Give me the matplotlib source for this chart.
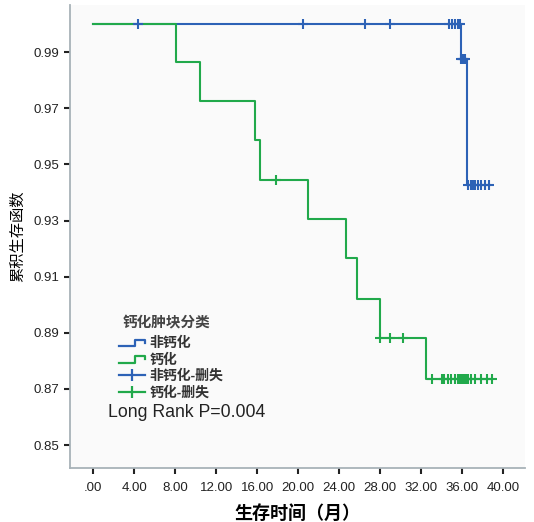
import matplotlib
matplotlib.use("Agg")
import matplotlib.pyplot as plt
from matplotlib.legend_handler import HandlerBase
from matplotlib.lines import Line2D
import numpy as np

plt.rcParams['font.family'] = ['Liberation Sans', 'Noto Sans CJK SC']

# --- data ---
blue_times = [0.0, 35.9, 36.5]
blue_surv = [1.0, 0.9876, 0.9427]
blue_end = 38.7
blue_cens_t = [4.4, 20.5, 26.5, 28.9, 34.7, 35.0, 35.3, 35.6, 35.8,
               35.9, 36.0, 36.1, 36.2, 36.3,
               36.6, 36.8, 37.0, 37.2, 37.5, 37.8, 38.2, 38.6]

green_times = [0.0, 8.1, 10.4, 15.8, 16.3, 21.0, 24.7, 25.7, 28.0, 32.5]
green_surv = [1.0, 0.9865, 0.9726, 0.9586, 0.9445, 0.9304, 0.9165,
              0.9022, 0.888, 0.8735]
green_end = 38.9
green_cens_t = [17.8, 28.0, 28.9, 30.2,
                33.0, 34.0, 34.2, 34.6, 34.9, 35.3, 35.6, 35.8, 36.0, 36.1,
                36.2, 36.3, 36.4, 36.5, 36.6, 36.8, 37.2, 37.8, 38.4, 38.9]

x_ticks = np.arange(0, 41, 4)
x_ticklabels = ['.00'] + ['%.2f' % v for v in x_ticks[1:]]
y_ticks = [0.85, 0.87, 0.89, 0.91, 0.93, 0.95, 0.97, 0.99]

legend_title = '钙化肿块分类'
legend_labels = ['非钙化', '钙化', '非钙化-删失', '钙化-删失']

blue = '#2d62b6'
green = '#21a94b'


def surv_at(times, surv, t):
    idx = np.searchsorted(times, t, side='right') - 1
    return np.asarray(surv)[idx]


class StepHandler(HandlerBase):
    # little step symbol like the SPSS legend
    def create_artists(self, legend, orig_handle, xdescent, ydescent,
                       width, height, fontsize, trans):
        w, h = width, height
        xs = [0, w * 0.6, w * 0.6, w, w]
        ys = [h * 0.1, h * 0.1, h * 0.85, h * 0.85, h * 0.5]
        ln = Line2D(xs, ys, color=orig_handle.get_color(), lw=1.6,
                    transform=trans)
        return [ln]


fig = plt.figure(figsize=(5.34, 5.22), dpi=100)
ax = fig.add_axes([0.131, 0.1034, 0.852, 0.887])
ax.set_facecolor('#fafafa')

bt = list(blue_times) + [blue_end]
bs = list(blue_surv) + [blue_surv[-1]]
gt = list(green_times) + [green_end]
gs = list(green_surv) + [green_surv[-1]]

l1, = ax.step(bt, bs, where='post', color=blue, lw=1.5)
l2, = ax.step(gt, gs, where='post', color=green, lw=1.5)

ax.plot(blue_cens_t, surv_at(blue_times, blue_surv, blue_cens_t),
        ls='none', marker='+', ms=7, mew=1.5, color=blue)
ax.plot(green_cens_t, surv_at(green_times, green_surv, green_cens_t),
        ls='none', marker='+', ms=7, mew=1.5, color=green)

ax.set_xlim(-2.25, 42.1)
ax.set_ylim(0.8418, 1.0068)
ax.set_xticks(x_ticks)
ax.set_xticklabels(x_ticklabels)
ax.set_yticks(y_ticks)
ax.set_yticklabels(['%.2f' % v for v in y_ticks])

for s in ['top', 'right']:
    ax.spines[s].set_visible(False)
for s in ['left', 'bottom']:
    ax.spines[s].set_color('#a8b2b8')
    ax.spines[s].set_linewidth(1.3)
ax.tick_params(axis='both', direction='out', length=4, width=1.5,
               color='#222222', labelsize=9.5, labelcolor='#222222')
ax.tick_params(axis='x', pad=6)

ax.set_ylabel('累积生存函数', fontsize=11, labelpad=6)
ax.set_xlabel('生存时间（月）', fontsize=13, fontweight='bold', labelpad=8)

# legend: censor handles are a line with a tick in the middle
c1 = Line2D([], [], color=blue, lw=1.6, marker='|', ms=9, mew=1.6)
c2 = Line2D([], [], color=green, lw=1.6, marker='|', ms=9, mew=1.6)
leg = ax.legend([l1, l2, c1, c2], legend_labels,
                handler_map={l1: StepHandler(), l2: StepHandler()},
                loc='upper left', bbox_to_anchor=(0.08, 0.312),
                frameon=False, numpoints=1,
                prop={'size': 10, 'weight': 'bold'}, handlelength=1.9,
                handleheight=0.6, handletextpad=0.3, labelspacing=0.18)
for t in leg.get_texts():
    t.set_color('#333333')

ax.text(0.115, 0.315, legend_title, transform=ax.transAxes,
        fontsize=10.5, fontweight='bold', color='#444444', va='center')

ax.text(0.083, 0.12, 'Long Rank P=0.004', transform=ax.transAxes,
        fontsize=12.7, color='#222222', va='center')

fig.savefig('out.png', dpi=100)
